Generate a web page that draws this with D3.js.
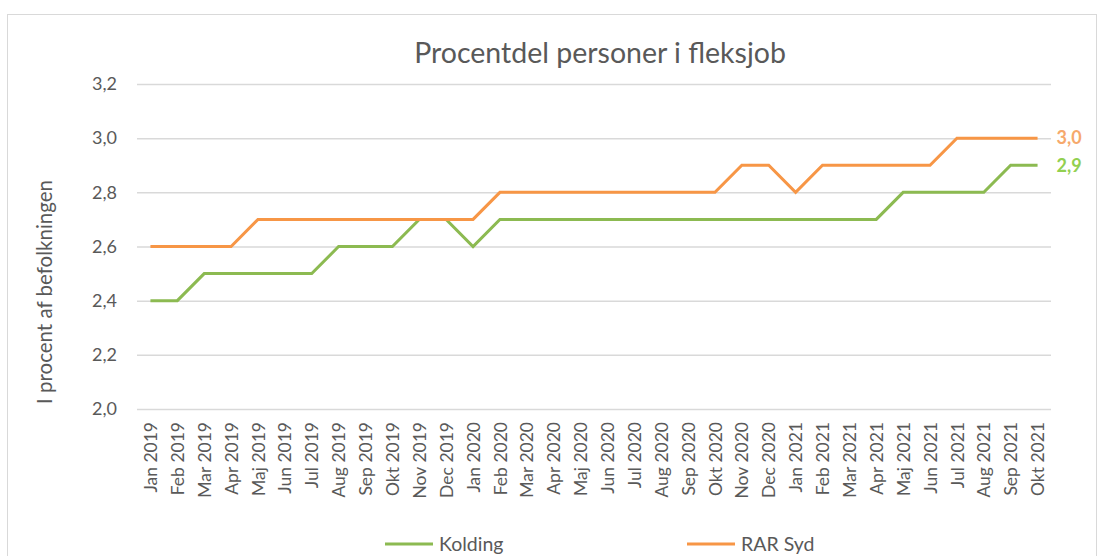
<!DOCTYPE html>
<html lang="da">
<head>
<meta charset="UTF-8">
<title>Procentdel personer i fleksjob</title>
<script src="https://d3js.org/d3.v7.min.js"></script>
<style>
    body { margin: 0; background: #fff; }
    svg, svg text { font-family: Lato, "Open Sans", sans-serif; }
    .tick text { fill: #595959; }
</style>
</head>
<body>
<div id="chart"></div>
<script>
    const months = ["Jan 2019","Feb 2019","Mar 2019","Apr 2019","Maj 2019","Jun 2019","Jul 2019","Aug 2019","Sep 2019","Okt 2019","Nov 2019","Dec 2019",
        "Jan 2020","Feb 2020","Mar 2020","Apr 2020","Maj 2020","Jun 2020","Jul 2020","Aug 2020","Sep 2020","Okt 2020","Nov 2020","Dec 2020",
        "Jan 2021","Feb 2021","Mar 2021","Apr 2021","Maj 2021","Jun 2021","Jul 2021","Aug 2021","Sep 2021","Okt 2021"];
    const kolding = [2.4,2.4,2.5,2.5,2.5,2.5,2.5,2.6,2.6,2.6,2.7,2.7,
        2.6,2.7,2.7,2.7,2.7,2.7,2.7,2.7,2.7,2.7,2.7,2.7,
        2.7,2.7,2.7,2.7,2.8,2.8,2.8,2.8,2.9,2.9];
    const rarSyd = [2.6,2.6,2.6,2.6,2.7,2.7,2.7,2.7,2.7,2.7,2.7,2.7,
        2.7,2.8,2.8,2.8,2.8,2.8,2.8,2.8,2.8,2.8,2.9,2.9,
        2.8,2.9,2.9,2.9,2.9,2.9,3.0,3.0,3.0,3.0];
    const yTicks = [2.0,2.2,2.4,2.6,2.8,3.0,3.2];

    const width = 1098, height = 556;
    const margin = {top: 84, right: 47, bottom: 147, left: 137};
    const fmt = v => d3.format(".1f")(v).replace(".", ",");

    const series = [
        {name: "Kolding", values: kolding, color: "#8cba51", labelColor: "#92d050"},
        {name: "RAR Syd", values: rarSyd, color: "#f79646", labelColor: "#f6a96c"}
    ];

    const svg = d3.select("#chart").append("svg")
        .attr("width", width)
        .attr("height", height);

    // chart frame
    svg.append("rect")
        .attr("x", 7.5).attr("y", 14.5)
        .attr("width", 1089).attr("height", 560)
        .attr("fill", "none").attr("stroke", "#d9d9d9");

    const x = d3.scalePoint()
        .domain(months)
        .range([margin.left, width - margin.right])
        .padding(0.5);

    const y = d3.scaleLinear()
        .domain([2.0, 3.2])
        .range([height - margin.bottom, margin.top]);

    svg.append("text")
        .attr("x", 600).attr("y", 63)
        .attr("text-anchor", "middle")
        .attr("fill", "#595959")
        .style("font-size", "28.5px")
        .text("Procentdel personer i fleksjob");

    // y axis with gridlines
    const yAxis = svg.append("g")
        .attr("transform", `translate(${margin.left},0)`)
        .call(d3.axisLeft(y).tickValues(yTicks).tickFormat(fmt)
            .tickSize(-(width - margin.left - margin.right)).tickPadding(20));
    yAxis.attr("font-family", null);
    yAxis.select(".domain").remove();
    yAxis.selectAll("line").attr("stroke", "#d9d9d9").attr("stroke-width", 1.5);
    yAxis.selectAll("text").style("font-size", "18px");

    // x axis labels
    const xAxis = svg.append("g")
        .attr("transform", `translate(0,${height - margin.bottom})`)
        .call(d3.axisBottom(x).tickSize(0));
    xAxis.attr("font-family", null);
    xAxis.select(".domain").remove();
    xAxis.selectAll("text")
        .style("font-size", "17.5px")
        .attr("text-anchor", "end")
        .attr("transform", "rotate(-90)")
        .attr("x", -13)
        .attr("y", 0)
        .attr("dy", "0.35em");

    svg.append("text")
        .attr("transform", "translate(52,292) rotate(-90)")
        .attr("text-anchor", "middle")
        .attr("fill", "#595959")
        .style("font-size", "20.5px")
        .text("I procent af befolkningen");

    const line = d3.line()
        .x((d, i) => x(months[i]))
        .y(d => y(d));

    svg.selectAll(".series")
        .data(series)
        .enter().append("path")
        .attr("class", "series")
        .attr("fill", "none")
        .attr("stroke", d => d.color)
        .attr("stroke-width", 3)
        .attr("d", d => line(d.values));

    // end labels
    svg.selectAll(".end-label")
        .data(series)
        .enter().append("text")
        .attr("class", "end-label")
        .attr("x", x(months[months.length - 1]) + 19)
        .attr("y", d => y(d.values[d.values.length - 1]))
        .attr("dy", "0.35em")
        .attr("fill", d => d.labelColor)
        .style("font-size", "18px")
        .style("font-weight", "bold")
        .text(d => fmt(d.values[d.values.length - 1]));

    // legend
    const legendX = [385, 687];
    const legend = svg.selectAll(".legend")
        .data(series)
        .enter().append("g")
        .attr("class", "legend")
        .attr("transform", (d, i) => `translate(${legendX[i]},544)`);
    legend.append("line")
        .attr("x1", 0).attr("x2", 48)
        .attr("stroke", d => d.color)
        .attr("stroke-width", 3);
    legend.append("text")
        .attr("x", 54).attr("dy", "0.35em")
        .attr("fill", "#595959")
        .style("font-size", "19.5px")
        .text(d => d.name);
</script>
</body>
</html>
